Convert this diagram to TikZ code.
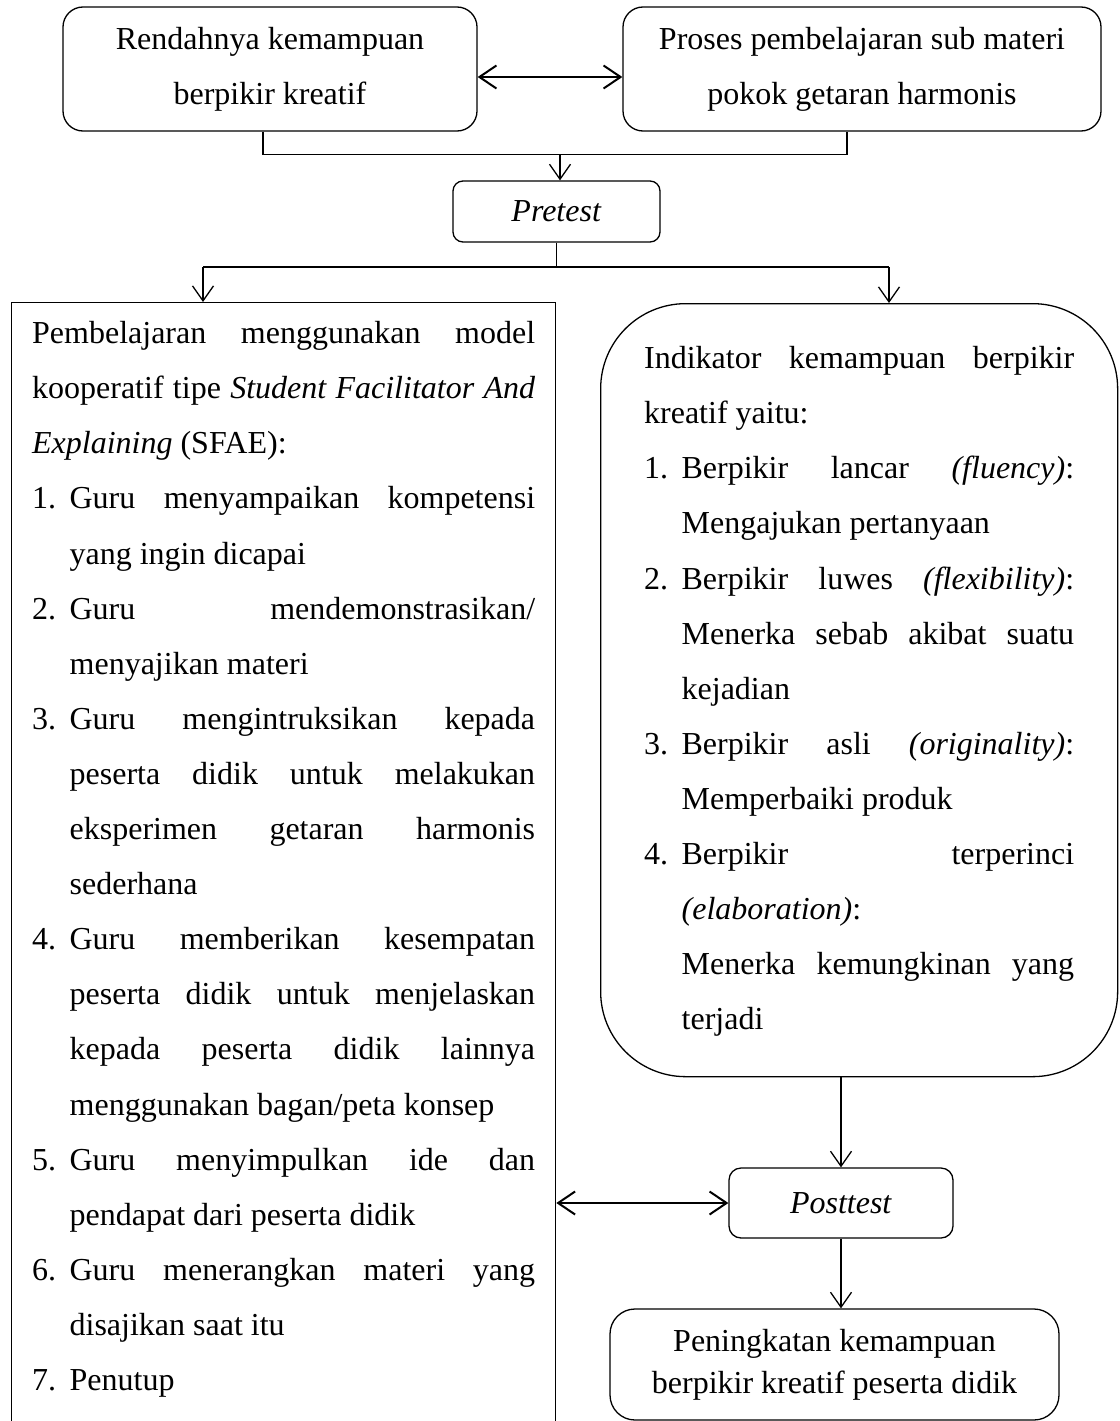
\documentclass[tikz,border=0pt]{standalone}
\usepackage{fontspec}
\setmainfont{Liberation Serif}
\usetikzlibrary{arrows.meta,calc}
\newcommand\bodyfont{\fontsize{32}{55.1}\selectfont}
\newcommand\itm[1]{\noindent\hangindent=37.5pt\hangafter=1\makebox[37.5pt][l]{#1}\ignorespaces}
\newcommand\parsetup{\bodyfont\hyphenpenalty=10000\exhyphenpenalty=10000\tolerance=10000\hbadness=10000\parindent=0pt\parskip=0pt}
\tikzset{
  rbox/.style={draw, line width=1.3pt, rounded corners=#1, inner sep=0pt, align=center, font=\bodyfont},
  textbox/.style={draw, line width=1.3pt, anchor=north west},
  arr/.style={-{Straight Barb[length=15pt,width=21pt]}, line width=1.3pt},
  dbl/.style={{Straight Barb[length=17pt,width=23pt]}-{Straight Barb[length=17pt,width=23pt]}, line width=2pt},
  link/.style={line width=1.3pt}
}
\begin{document}
\begin{tikzpicture}[x=1pt,y=-1pt]
\useasboundingbox (0,0) rectangle (1119,1421);
\clip (0,0) rectangle (1119,1421);

% top boxes
\node[rbox=20pt, minimum width=414pt, minimum height=124pt] (tl) at (270,69) {Rendahnya kemampuan\\berpikir kreatif};
\node[rbox=20pt, minimum width=478pt, minimum height=124pt] (tr) at (862,69) {Proses pembelajaran sub materi\\pokok getaran harmonis};

% pretest
\node[rbox=10pt, minimum width=207pt, minimum height=61pt] (pre) at (556.5,211.5) {\textit{Pretest}};

% left box
\node[textbox, inner xsep=20.5pt, inner ysep=2.4pt] (lb) at (11,302) {%
\begin{minipage}[t][1135pt][t]{503pt}\parsetup
\strut Pembelajaran menggunakan model \linebreak kooperatif tipe \textit{Student Facilitator And} \linebreak \textit{Explaining} (SFAE):\par
\itm{1.}Guru menyampaikan kompetensi \linebreak yang ingin dicapai\par
\itm{2.}Guru mendemonstrasikan/ \linebreak menyajikan materi\par
\itm{3.}Guru mengintruksikan kepada \linebreak peserta didik untuk melakukan \linebreak eksperimen getaran harmonis \linebreak sederhana\par
\itm{4.}Guru memberikan kesempatan \linebreak peserta didik untuk menjelaskan \linebreak kepada peserta didik lainnya \linebreak menggunakan bagan/peta konsep\par
\itm{5.}Guru menyimpulkan ide dan \linebreak pendapat dari peserta didik\par
\itm{6.}Guru menerangkan materi yang \linebreak disajikan saat itu\par
\itm{7.}Penutup\par
\end{minipage}};

% right box
\node[textbox, rounded corners=85pt, inner xsep=43.5pt, inner ysep=26.4pt] (rb) at (600,303) {%
\begin{minipage}[t][720.2pt][t]{430pt}\parsetup
\strut Indikator kemampuan berpikir \linebreak kreatif yaitu:\par
\itm{1.}Berpikir lancar \textit{(fluency)}: \linebreak Mengajukan pertanyaan\par
\itm{2.}Berpikir luwes \textit{(flexibility)}: \linebreak Menerka sebab akibat suatu \linebreak kejadian\par
\itm{3.}Berpikir asli \textit{(originality)}: \linebreak Memperbaiki produk\par
\itm{4.}Berpikir terperinci \linebreak \textit{(elaboration)}:\newline Menerka kemungkinan yang \linebreak terjadi\par
\end{minipage}};

% posttest and result
\node[rbox=12pt, minimum width=224pt, minimum height=70pt] (post) at (841,1203) {\textit{Posttest}};
\node[rbox=25pt, minimum width=449pt, minimum height=111pt, font={\fontsize{32}{42}\selectfont}] (res) at (834.5,1364.5) {Peningkatan kemampuan\\berpikir kreatif peserta didik};

% connectors
\draw[dbl] ([yshift=-8pt]tl.east) -- ([yshift=-8pt]tr.west);
\coordinate (mj) at (pre.north |- 0,154);
\draw[link] ([xshift=-7pt]tl.south) -- ++(0,23) -| ([xshift=-15pt]tr.south);
\draw[arr] ([xshift=3.5pt]mj) -- ([xshift=3.5pt]pre.north);

\coordinate (sl) at (203,267);
\coordinate (sr) at (889,267);
\coordinate (sc) at (pre.south |- sl);
\draw[link] (pre.south) -- (sc);
\draw[link] (sl) -- (sr);
\draw[arr] (sl) -- (sl |- lb.north);
\draw[arr] (sr) -- (sr |- rb.north);

\draw[arr] (post.north |- rb.south) -- (post.north);
\draw[dbl] (lb.east |- post.west) -- (post.west);
\draw[arr] (post.south) -- (post.south |- res.north);
\end{tikzpicture}
\end{document}
